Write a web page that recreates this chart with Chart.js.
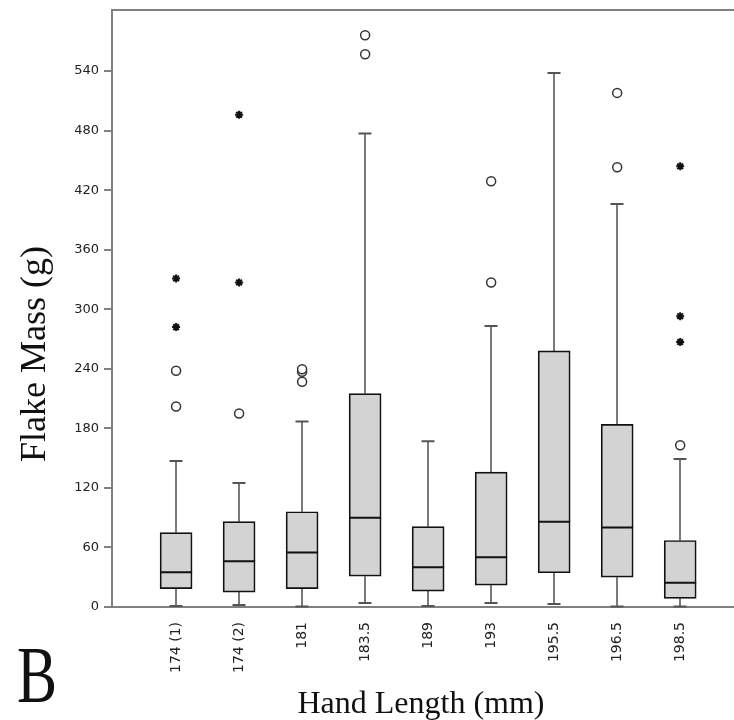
<!DOCTYPE html>
<html>
<head>
<meta charset="utf-8">
<script src="https://cdn.jsdelivr.net/npm/chart.js@4.4.1/dist/chart.umd.min.js"></script>
<style>
  body { margin: 0; background: #fff; }
  #wrap { width: 734px; height: 720px; }
</style>
</head>
<body>
<div id="wrap"><canvas id="box-chart" width="734" height="720"></canvas></div>
<script>
// Hand length groups and box plot stats for flake mass (g)
const categories = ['174 (1)', '174 (2)', '181', '183.5', '189', '193', '195.5', '196.5', '198.5'];
const whiskerLow = [1, 2, 0.5, 4, 1, 4, 3, 0.5, 0.5];
const q1 = [18.5, 15, 18.5, 31, 16, 22, 34.5, 30, 8.7];
const median = [35, 46, 55, 90, 40, 50, 86, 80, 24.5];
const q3 = [75, 86, 96, 215, 81, 136, 258, 184, 67];
const whiskerHigh = [147, 125, 187, 477, 167, 283, 538, 406, 149];
const circleOutliers = [[202, 238], [195], [227, 237, 239.5], [557, 576], [], [327, 429], [], [443, 518], [163]];
const starOutliers = [[282, 331], [327, 496], [], [], [], [], [], [], [267, 293, 444]];
const yTicks = [0, 60, 120, 180, 240, 300, 360, 420, 480, 540];

const serif = '"Liberation Serif", "Times New Roman", serif';
const sans = '"DejaVu Sans", Verdana, sans-serif';

// points for scatter datasets
function outlierPoints(groups) {
  const pts = [];
  groups.forEach((vals, i) => vals.forEach((v) => pts.push({ x: i, y: v })));
  return pts;
}

// whiskers + caps behind the boxes, medians on top, plus text
const boxExtras = {
  id: 'boxExtras',
  beforeDatasetsDraw(chart) {
    const { ctx, scales: { x, y } } = chart;
    ctx.save();
    ctx.lineWidth = 2;
    categories.forEach((c, i) => {
      const cx = Math.round(x.getPixelForValue(i));
      ctx.strokeStyle = '#7a7a7a';
      ctx.beginPath();
      ctx.moveTo(cx, y.getPixelForValue(whiskerLow[i]));
      ctx.lineTo(cx, y.getPixelForValue(q1[i]));
      ctx.moveTo(cx, y.getPixelForValue(q3[i]));
      ctx.lineTo(cx, y.getPixelForValue(whiskerHigh[i]));
      ctx.stroke();
      ctx.strokeStyle = '#555';
      ctx.beginPath();
      [whiskerLow[i], whiskerHigh[i]].forEach((v) => {
        const py = y.getPixelForValue(v);
        ctx.moveTo(cx - 6.5, py);
        ctx.lineTo(cx + 6.5, py);
      });
      ctx.stroke();
    });
    ctx.restore();
  },
  afterDatasetsDraw(chart) {
    const { ctx, scales: { x, y } } = chart;
    ctx.save();
    ctx.strokeStyle = '#111';
    ctx.lineWidth = 2;
    categories.forEach((c, i) => {
      const cx = x.getPixelForValue(i);
      const py = y.getPixelForValue(median[i]);
      ctx.beginPath();
      ctx.moveTo(cx - 16, py);
      ctx.lineTo(cx + 16, py);
      ctx.stroke();
    });
    ctx.restore();
  },
  afterDraw(chart) {
    const { ctx, chartArea } = chart;
    ctx.save();
    // top frame line
    ctx.strokeStyle = '#808080';
    ctx.lineWidth = 2;
    ctx.beginPath();
    ctx.moveTo(chartArea.left, chartArea.top);
    ctx.lineTo(chart.width, chartArea.top);
    ctx.stroke();

    ctx.fillStyle = '#111';
    ctx.textAlign = 'center';
    ctx.textBaseline = 'alphabetic';
    ctx.font = '32px ' + serif;
    ctx.fillText('Hand Length (mm)', 421, 713);

    ctx.save();
    ctx.translate(45, 354);
    ctx.rotate(-Math.PI / 2);
    ctx.font = '36px ' + serif;
    ctx.fillText('Flake Mass (g)', 0, 0);
    ctx.restore();

    ctx.save();
    ctx.translate(37, 702);
    ctx.scale(0.75, 1);
    ctx.font = '80px ' + serif;
    ctx.fillText('B', 0, 0);
    ctx.restore();
    ctx.restore();
  },
};

new Chart(document.getElementById('box-chart'), {
  type: 'bar',
  data: {
    datasets: [
      {
        type: 'scatter',
        data: outlierPoints(circleOutliers),
        pointStyle: 'circle',
        pointRadius: 4.5,
        pointBackgroundColor: '#fff',
        pointBorderColor: '#333',
        pointBorderWidth: 1.5,
      },
      {
        type: 'scatter',
        data: outlierPoints(starOutliers),
        pointStyle: 'star',
        pointRadius: 4,
        pointBorderColor: '#111',
        pointBorderWidth: 2,
      },
      {
        type: 'bar',
        data: categories.map((c, i) => ({ x: i, y: [q1[i], q3[i]] })),
        backgroundColor: '#d3d3d3',
        borderColor: '#111',
        borderWidth: 1.7,
        borderSkipped: false,
        barThickness: 32,
      },
    ],
  },
  options: {
    responsive: false,
    animation: false,
    devicePixelRatio: 1,
    layout: { autoPadding: false, padding: { top: 10, left: 0, right: 0, bottom: 0 } },
    plugins: {
      legend: { display: false },
      tooltip: { enabled: false },
    },
    scales: {
      x: {
        type: 'linear',
        offset: false,
        min: -1.017,
        max: 8.854,
        afterBuildTicks: (scale) => {
          scale.ticks = categories.map((c, i) => ({ value: i }));
        },
        afterFit: (scale) => {
          scale.height = 113;
          scale.paddingLeft = 0;
          scale.paddingRight = 0;
        },
        grid: { display: false },
        border: { display: true, color: '#808080', width: 2 },
        ticks: {
          autoSkip: false,
          maxRotation: 90,
          minRotation: 90,
          padding: 7,
          color: '#222',
          font: { family: sans, size: 14 },
          callback: (v) => categories[v],
        },
      },
      y: {
        min: 0,
        max: 601.5,
        afterBuildTicks: (scale) => {
          scale.ticks = yTicks.map((v) => ({ value: v }));
        },
        afterFit: (scale) => {
          scale.width = 112;
          scale.paddingTop = 0;
          scale.paddingBottom = 0;
        },
        grid: { drawOnChartArea: false, drawTicks: true, tickLength: 8, color: '#808080', lineWidth: 2 },
        border: { display: true, color: '#808080', width: 2 },
        ticks: {
          padding: 5,
          color: '#222',
          font: { family: sans, size: 13 },
        },
      },
    },
  },
  plugins: [boxExtras],
});
</script>
</body>
</html>
